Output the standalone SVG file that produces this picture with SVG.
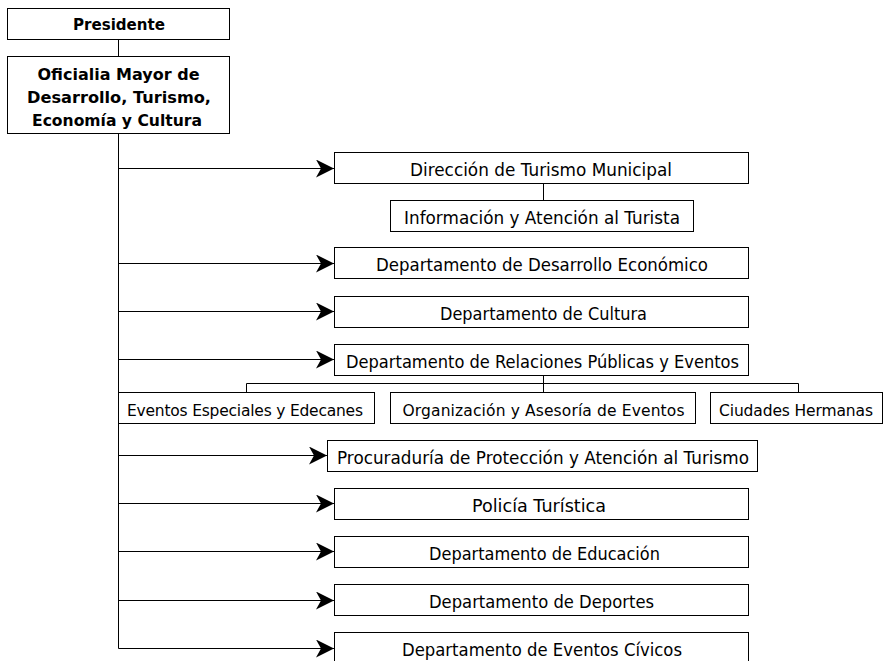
<svg xmlns="http://www.w3.org/2000/svg" width="884" height="661" viewBox="0 0 884 661">
<style>
rect{fill:#fff;stroke:#000;stroke-width:1}
text{font-family:"DejaVu Sans","Liberation Sans",sans-serif;font-size:17px;fill:#000;text-anchor:middle}
.b{font-weight:bold;font-size:16px}
.s{font-size:15.5px}
.c{fill:none;stroke:#000;stroke-width:1}
</style>
<defs>
<marker id="ah" markerUnits="userSpaceOnUse" markerWidth="18" markerHeight="18" refX="18" refY="9" orient="auto">
<path d="M0,0 L18,9 L0,18 L5,9 z" fill="#000"/>
</marker>
</defs>
<g id="connectors">
<path class="c" d="M118.5,40 V56"/>
<path class="c" d="M118.5,134 V648.5"/>
<path class="c" d="M118.5,168.5 H334" marker-end="url(#ah)"/>
<path class="c" d="M118.5,263.5 H334" marker-end="url(#ah)"/>
<path class="c" d="M118.5,311.5 H334" marker-end="url(#ah)"/>
<path class="c" d="M118.5,359.5 H334" marker-end="url(#ah)"/>
<path class="c" d="M118.5,455.5 H327" marker-end="url(#ah)"/>
<path class="c" d="M118.5,503.5 H334" marker-end="url(#ah)"/>
<path class="c" d="M118.5,551.5 H334" marker-end="url(#ah)"/>
<path class="c" d="M118.5,600.5 H334" marker-end="url(#ah)"/>
<path class="c" d="M118.5,648.5 H334" marker-end="url(#ah)"/>
<path class="c" d="M543.5,183 V200"/>
<path class="c" d="M543.5,375 V392"/>
<path class="c" d="M246.5,392 V383.5 H798.5 V392"/>
</g>
<g id="presidente"><rect x="7.5" y="8.5" width="222" height="31"/><text class="b" x="119" y="30" textLength="92" lengthAdjust="spacingAndGlyphs">Presidente</text></g>
<g id="oficialia"><rect x="7.5" y="56.5" width="222" height="77"/><text class="b" x="118.5" y="80" textLength="162" lengthAdjust="spacingAndGlyphs">Oficialia Mayor de</text><text class="b" x="119" y="103" textLength="184" lengthAdjust="spacingAndGlyphs">Desarrollo, Turismo,</text><text class="b" x="117" y="126" textLength="170" lengthAdjust="spacingAndGlyphs">Economía y Cultura</text></g>
<g id="direccion"><rect x="334.5" y="152.5" width="414" height="31"/><text x="541" y="176" textLength="262" lengthAdjust="spacingAndGlyphs">Dirección de Turismo Municipal</text></g>
<g id="informacion"><rect x="390.5" y="200.5" width="303" height="31"/><text x="542" y="224" textLength="276" lengthAdjust="spacingAndGlyphs">Información y Atención al Turista</text></g>
<g id="desarrollo"><rect x="334.5" y="247.5" width="414" height="31"/><text x="542" y="271" textLength="332" lengthAdjust="spacingAndGlyphs">Departamento de Desarrollo Económico</text></g>
<g id="cultura"><rect x="334.5" y="296.5" width="414" height="31"/><text x="543.5" y="320" textLength="207" lengthAdjust="spacingAndGlyphs">Departamento de Cultura</text></g>
<g id="relaciones"><rect x="334.5" y="344.5" width="414" height="31"/><text x="542.5" y="368" textLength="393" lengthAdjust="spacingAndGlyphs">Departamento de Relaciones Públicas y Eventos</text></g>
<g id="eventos-especiales"><rect x="118.5" y="392.5" width="256" height="31"/><text class="s" x="245" y="416" textLength="236" lengthAdjust="spacing">Eventos Especiales y Edecanes</text></g>
<g id="organizacion"><rect x="390.5" y="392.5" width="305" height="31"/><text class="s" x="543.5" y="416" textLength="282" lengthAdjust="spacing">Organización y Asesoría de Eventos</text></g>
<g id="ciudades"><rect x="710.5" y="392.5" width="172" height="31"/><text class="s" x="796" y="416" textLength="154" lengthAdjust="spacing">Ciudades Hermanas</text></g>
<g id="procuraduria"><rect x="327.5" y="440.5" width="430" height="31"/><text x="543" y="464" textLength="412" lengthAdjust="spacingAndGlyphs">Procuraduría de Protección y Atención al Turismo</text></g>
<g id="policia"><rect x="334.5" y="488.5" width="414" height="31"/><text x="539" y="512" textLength="134" lengthAdjust="spacingAndGlyphs">Policía Turística</text></g>
<g id="educacion"><rect x="334.5" y="536.5" width="414" height="31"/><text x="544.5" y="560" textLength="231" lengthAdjust="spacingAndGlyphs">Departamento de Educación</text></g>
<g id="deportes"><rect x="334.5" y="584.5" width="414" height="31"/><text x="541.5" y="608" textLength="225" lengthAdjust="spacingAndGlyphs">Departamento de Deportes</text></g>
<g id="civicos"><rect x="334.5" y="632.5" width="414" height="31"/><text x="542" y="656" textLength="280" lengthAdjust="spacingAndGlyphs">Departamento de Eventos Cívicos</text></g>
</svg>
